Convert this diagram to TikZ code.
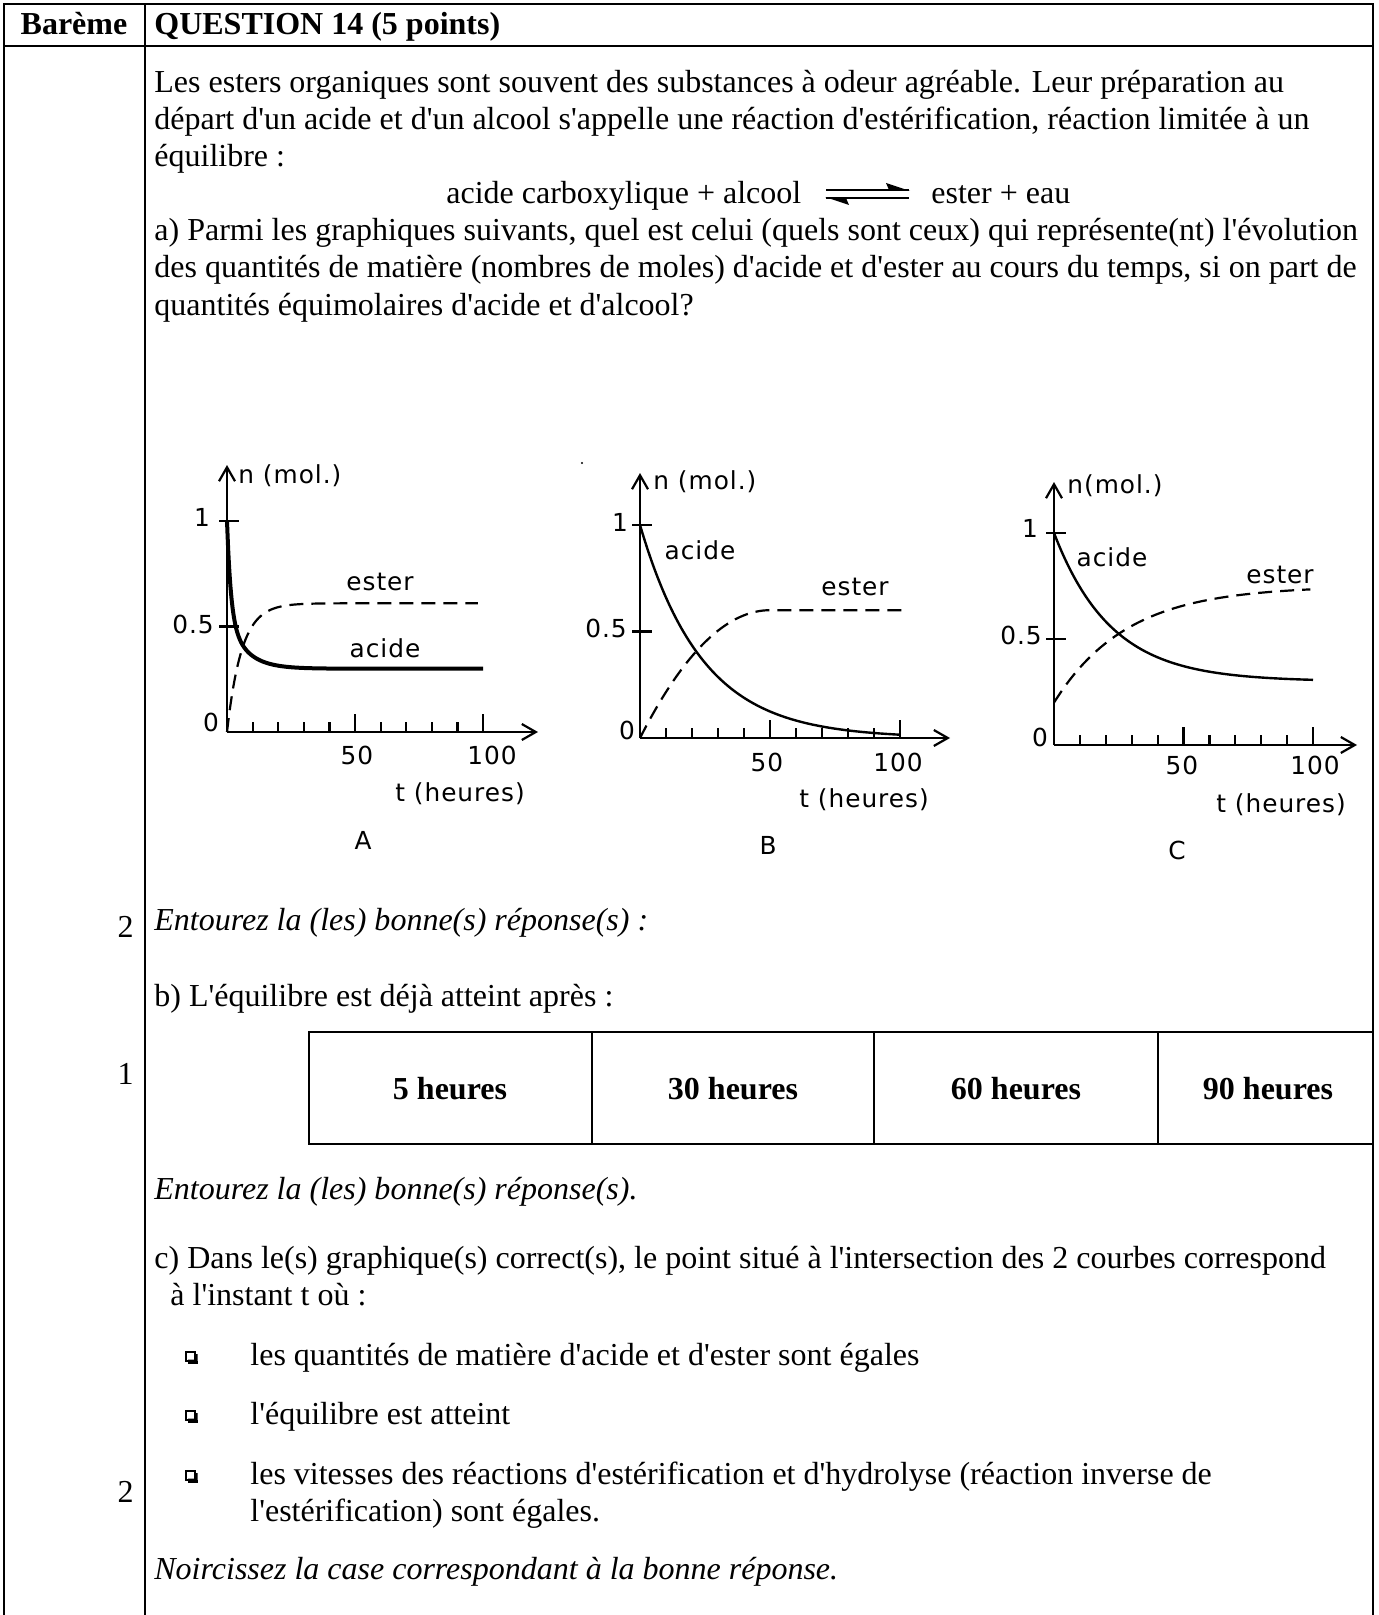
\documentclass[tikz,border=0pt]{standalone}
\usepackage{fontspec}
\setmainfont{Liberation Serif}[Ligatures=TeXOff]
\newfontfamily\graphfont{DejaVu Sans}[LetterSpace=4]
\usetikzlibrary{arrows.meta}
\tikzset{
  txt/.style={anchor=base west, inner sep=0pt, font=\fontsize{16}{19}\selectfont},
  txtb/.style={anchor=base west, inner sep=0pt, font=\fontsize{16}{19}\selectfont\bfseries},
  txti/.style={anchor=base west, inner sep=0pt, font=\fontsize{16}{19}\selectfont\itshape},
  lbl/.style={inner sep=0pt, font=\graphfont\fontsize{12.4}{14}\selectfont},
  axisline/.style={line width=1.1pt, -{Straight Barb[length=7pt,width=8pt]}},
  tickline/.style={line width=1.1pt},
  solidc/.style={line width=1.2pt},
  thickc/.style={line width=2pt},
  dashc/.style={line width=1.1pt, dash pattern=on 7pt off 4pt},
  frameline/.style={line width=1.3pt},
  cellline/.style={line width=0.8pt},
}
\newcommand{\graphaxes}{%
  \draw[axisline] (\ox,\oy) -- (\ox,\ytop);
  \draw[axisline] (\ox,\oy) -- (\xend,\oy);
  \foreach \t in {10,20,30,40,60,70,80,90} \draw[tickline] ({\ox+\sx*\t},\oy) -- ++(0,-10);
  \foreach \t in {50,100} \draw[tickline] ({\ox+\sx*\t},\oy) -- ++(0,-18);
  \foreach \n in {0.5,1} \draw[tickline] (\ox-8,{\oy-\sy*\n}) -- (\ox+12,{\oy-\sy*\n});
}
\newcommand{\bulletbox}[2]{%
  \draw[line width=0.6pt] (#1-5,#2-5) rectangle (#1+4,#2+4);
  \fill (#1-3,#2+4) -- (#1+6.5,#2+4) -- (#1+6.5,#2-3) -- (#1+4,#2-3) -- (#1+4,#2+2.5) -- (#1-3,#2+2.5) -- cycle;
  \fill (#1-3,#2+4) rectangle (#1+6.5,#2+6.5);
}
\begin{document}
\begin{tikzpicture}[x=0.5pt,y=-0.5pt]
\useasboundingbox (0,0) rectangle (1378,1615);
\fill[white] (0,0) rectangle (1378,1615);

% frame
\draw[frameline] (4,1615) -- (4,4) -- (1373,4) -- (1373,1615);
\draw[frameline] (4,46) -- (1373,46);
\draw[frameline] (145,4) -- (145,1615);

% header
\node[txtb, anchor=base] (hbar) at (74,35) {Barème};
\node[txtb] (hq) at (154,35) {QUESTION 14 (5 points)};

% intro
\node[txt] (p1) at (154,93) {Les esters organiques sont souvent des substances à odeur agréable. Leur préparation au};
\node[txt] (p2) at (154,130) {départ d'un acide et d'un alcool s'appelle une réaction d'estérification, réaction limitée à un};
\node[txt] (p3) at (154,167) {équilibre :};
\node[txt] (eqL) at (446,204) {acide carboxylique + alcool};
\node[txt] (eqR) at (931,204) {ester + eau};
\draw[line width=1.3pt] (826,190) -- (909,190);
\fill (910,191) -- (886,183) -- (889,190) -- cycle;
\draw[line width=1.3pt] (826,198) -- (909,198);
\fill (825,197) -- (849,205) -- (846,198) -- cycle;

\node[txt] (a1) at (154,241) {a) Parmi les graphiques suivants, quel est celui (quels sont ceux) qui représente(nt) l'évolution};
\node[txt] (a2) at (154,278) {des quantités de matière (nombres de moles) d'acide et d'ester au cours du temps, si on part de};
\node[txt] (a3) at (154,315) {quantités équimolaires d'acide et d'alcool?};

% ---- graph A
\def\ox{227}\def\oy{732}\def\sx{2.56}\def\sy{211}\def\ytop{465}\def\xend{538}
\graphaxes
\draw[thickc] plot[domain=0:100, samples=220, smooth] ({\ox+\sx*\x},{\oy-\sy*(0.3+0.45*exp(-\x/1.5)+0.25*exp(-\x/7))});
\draw[dashc] plot[domain=0:98, samples=160, smooth] ({\ox+\sx*\x},{\oy-\sy*0.61*(1-exp(-\x/5.7))});
\node[lbl, anchor=west] (Ay) at (238,476) {n (mol.)};
\node[lbl] (A1) at (202,517) {1};
\node[lbl] (A05) at (193,624) {0.5};
\node[lbl] (A0) at (211,722) {0};
\node[lbl] (A50) at (357,755) {50};
\node[lbl] (A100) at (492,755) {100};
\node[lbl] (At) at (460,794) {t (heures)};
\node[lbl] (AA) at (363,840) {A};
\node[lbl] (Aest) at (380,582) {ester};
\node[lbl] (Aac) at (385,648) {acide};

% ---- graph B
\def\ox{640}\def\oy{738}\def\sx{2.6}\def\sy{213}\def\ytop{473}\def\xend{950}
\graphaxes
\draw[solidc] plot[domain=0:100, samples=150, smooth] ({\ox+\sx*\x},{\oy-\sy*exp(-\x/24)});
\draw[dashc] plot[domain=0:50, samples=80, smooth] ({\ox+\sx*\x},{\oy-\sy*0.6*(1-(1-\x/50)*(1-\x/50))}) -- ({\ox+\sx*103},{\oy-\sy*0.6});
\fill (582,463) circle (1.2);
\node[lbl, anchor=west] (By) at (653,482) {n (mol.)};
\node[lbl] (B1) at (620,522) {1};
\node[lbl] (B05) at (606,628) {0.5};
\node[lbl] (B0) at (627,730) {0};
\node[lbl] (Bac) at (700,550) {acide};
\node[lbl] (Best) at (855,587) {ester};
\node[lbl] (B50) at (767,762) {50};
\node[lbl] (B100) at (898,762) {100};
\node[lbl] (Bt) at (864,800) {t (heures)};
\node[lbl] (BB) at (768,845) {B};

% ---- graph C
\def\ox{1054}\def\oy{745}\def\sx{2.59}\def\sy{212}\def\ytop{482}\def\xend{1357}
\graphaxes
\draw[solidc] plot[domain=0:100, samples=150, smooth] ({\ox+\sx*\x},{\oy-\sy*(0.3+0.7*exp(-\x/22))});
\draw[dashc] plot[domain=0:99, samples=150, smooth] ({\ox+\sx*\x},{\oy-\sy*(0.2+0.55*(1-exp(-\x/28)))});
\node[lbl, anchor=west] (Cy) at (1067,486) {n(mol.)};
\node[lbl] (C1) at (1030,528) {1};
\node[lbl] (C05) at (1021,635) {0.5};
\node[lbl] (C0) at (1040,737) {0};
\node[lbl] (Cac) at (1112,557) {acide};
\node[lbl] (Cest) at (1280,575) {ester};
\node[lbl] (C50) at (1182,765) {50};
\node[lbl] (C100) at (1315,765) {100};
\node[lbl] (Ct) at (1281,805) {t (heures)};
\node[lbl] (CC) at (1177,850) {C};

% ---- part a answer
\node[txt, anchor=base east] (m1) at (134,937) {2};
\node[txti] (e1) at (154,930) {Entourez la (les) bonne(s) réponse(s) :};

% ---- part b
\node[txt, anchor=base west] (b1) at (154,1006) {b) L'équilibre est déjà atteint après :};
\node[txt, anchor=base east] (m2) at (134,1084) {1};
\draw[frameline] (309,1032) rectangle (1373,1144);
\draw[cellline] (592,1032) -- (592,1144);
\draw[cellline] (874,1032) -- (874,1144);
\draw[cellline] (1158,1032) -- (1158,1144);
\node[txtb, anchor=base] (h5) at (450,1099) {5 heures};
\node[txtb, anchor=base] (h30) at (733,1099) {30 heures};
\node[txtb, anchor=base] (h60) at (1016,1099) {60 heures};
\node[txtb, anchor=base] (h90) at (1268,1099) {90 heures};
\node[txti] (e2) at (154,1199) {Entourez la (les) bonne(s) réponse(s).};

% ---- part c
\node[txt] (c1) at (154,1268) {c) Dans le(s) graphique(s) correct(s), le point situé à l'intersection des 2 courbes correspond};
\node[txt] (c2) at (170,1305) {à l'instant t où :};
\bulletbox{191}{1357}
\node[txt] (q1) at (250,1365) {les quantités de matière d'acide et d'ester sont égales};
\bulletbox{191}{1416}
\node[txt] (q2) at (250,1424) {l'équilibre est atteint};
\bulletbox{191}{1476}
\node[txt] (q3) at (250,1484) {les vitesses des réactions d'estérification et d'hydrolyse (réaction inverse de};
\node[txt] (q3b) at (250,1521) {l'estérification) sont égales.};
\node[txt, anchor=base east] (m3) at (134,1502) {2};
\node[txti] (nr) at (154,1579) {Noircissez la case correspondant à la bonne réponse.};
\end{tikzpicture}
\end{document}
